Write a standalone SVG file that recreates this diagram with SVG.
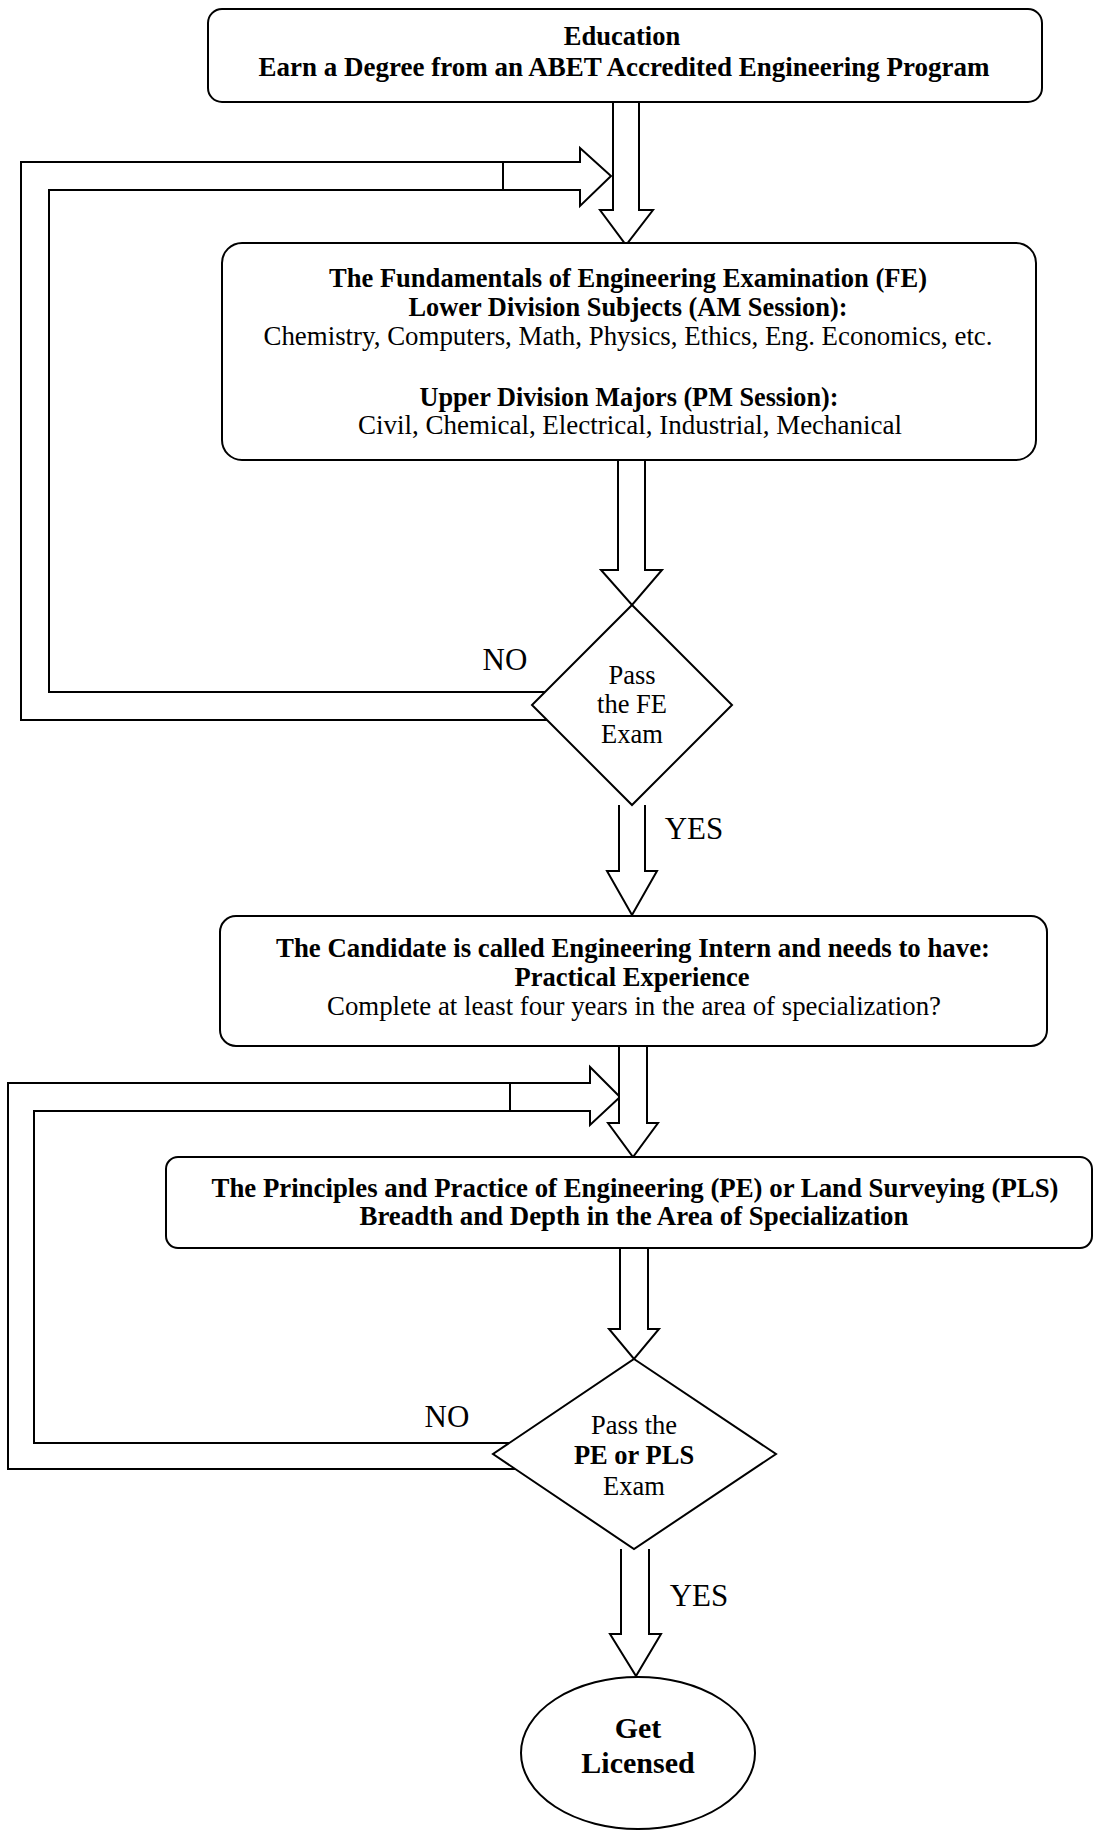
<svg xmlns="http://www.w3.org/2000/svg" width="1096" height="1831" viewBox="0 0 1096 1831">
<style>
.bg{fill:#fff}
.box{fill:#fff;stroke:#000;stroke-width:2}
.conn path{fill:#fff;stroke:#000;stroke-width:2;stroke-linejoin:miter}
.conn line{stroke:#000;stroke-width:2}
text{font-family:"Liberation Serif","Times New Roman",serif;font-size:26.5px;fill:#000;text-anchor:middle}
.b{font-weight:bold}
.lbl{font-size:31px}
</style>
<rect class="bg" x="0" y="0" width="1096" height="1831"/>
<g id="connectors" class="conn">
  <path d="M545,692 L49,692 L49,190 L580,190 L580,206 L611,176 L580,148 L580,162 L21,162 L21,720 L547,720"/>
  <line x1="503" y1="162" x2="503" y2="190"/>
  <path d="M509,1443 L34,1443 L34,1111 L590,1111 L590,1125 L620,1097 L590,1067 L590,1083 L8,1083 L8,1469 L515,1469"/>
  <line x1="510" y1="1083" x2="510" y2="1111"/>
  <path d="M613,102 V210 H600 L626,245 L653,210 H639 V102"/>
  <path d="M618,460 V570 H601 L632,605 L662,570 H645 V460"/>
  <path d="M619,805 V871 H607 L632,915 L657,871 H645 V805"/>
  <path d="M619,1046 V1123 H608 L633,1157 L658,1123 H647 V1046"/>
  <path d="M620,1248 V1329 H609 L634,1359 L659,1329 H648 V1248"/>
  <path d="M621,1549 V1634 H610 L636,1676 L661,1634 H649 V1549"/>
  <text class="lbl" x="505" y="670">NO</text>
  <text class="lbl" x="694" y="839">YES</text>
  <text class="lbl" x="447" y="1427">NO</text>
  <text class="lbl" x="699" y="1606">YES</text>
</g>
<g id="education">
  <rect class="box" x="208" y="9" width="834" height="93" rx="14"/>
  <text class="b" x="622" y="45">Education</text>
  <text class="b" x="624" y="76" textLength="731" lengthAdjust="spacingAndGlyphs">Earn a Degree from an ABET Accredited Engineering Program</text>
</g>
<g id="fe-exam">
  <rect class="box" x="222" y="243" width="814" height="217" rx="20"/>
  <text class="b" x="628" y="287" textLength="598" lengthAdjust="spacingAndGlyphs">The Fundamentals of Engineering Examination (FE)</text>
  <text class="b" x="628" y="316" textLength="439" lengthAdjust="spacingAndGlyphs">Lower Division Subjects (AM Session):</text>
  <text x="628" y="345" textLength="729" lengthAdjust="spacingAndGlyphs">Chemistry, Computers, Math, Physics, Ethics, Eng. Economics, etc.</text>
  <text class="b" x="629" y="406" textLength="419" lengthAdjust="spacingAndGlyphs">Upper Division Majors (PM Session):</text>
  <text x="630" y="434" textLength="544" lengthAdjust="spacingAndGlyphs">Civil, Chemical, Electrical, Industrial, Mechanical</text>
</g>
<g id="pass-fe">
  <polygon class="box" points="632,605 732,705 632,805 532,705"/>
  <text x="632" y="684">Pass</text>
  <text x="632" y="713">the FE</text>
  <text x="632" y="743">Exam</text>
</g>
<g id="intern">
  <rect class="box" x="220" y="916" width="827" height="130" rx="16"/>
  <text class="b" x="633" y="957" textLength="714" lengthAdjust="spacingAndGlyphs">The Candidate is called Engineering Intern and needs to have:</text>
  <text class="b" x="632" y="986" textLength="235" lengthAdjust="spacingAndGlyphs">Practical Experience</text>
  <text x="634" y="1015" textLength="614" lengthAdjust="spacingAndGlyphs">Complete at least four years in the area of specialization?</text>
</g>
<g id="pe-exam">
  <rect class="box" x="166" y="1157" width="926" height="91" rx="12"/>
  <text class="b" x="635" y="1197" textLength="847" lengthAdjust="spacingAndGlyphs">The Principles and Practice of Engineering (PE) or Land Surveying (PLS)</text>
  <text class="b" x="634" y="1225" textLength="549" lengthAdjust="spacingAndGlyphs">Breadth and Depth in the Area of Specialization</text>
</g>
<g id="pass-pe">
  <polygon class="box" points="634,1359 776,1454 634,1549 493,1454"/>
  <text x="634" y="1434">Pass the</text>
  <text class="b" x="634" y="1464">PE or PLS</text>
  <text x="634" y="1495">Exam</text>
</g>
<g id="licensed">
  <ellipse class="box" cx="638" cy="1753" rx="117" ry="76"/>
  <text class="b" x="638" y="1738" style="font-size:30px">Get</text>
  <text class="b" x="638" y="1773" style="font-size:30px">Licensed</text>
</g>
</svg>
